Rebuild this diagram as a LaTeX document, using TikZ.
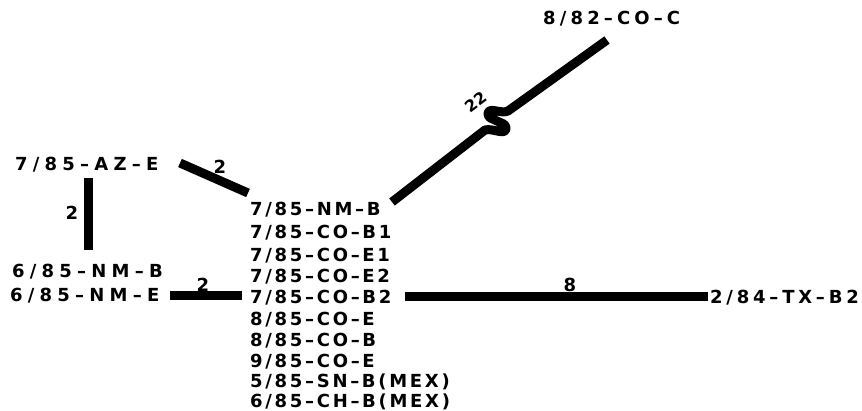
\documentclass[tikz,border=0pt]{standalone}
\usepackage{fontspec}
\setmainfont{DejaVu Sans}
\newfontfamily\colfont{DejaVu Sans}[LetterSpace=15]
\newfontfamily\leftfont{DejaVu Sans}[LetterSpace=29]
\newfontfamily\rightfont{DejaVu Sans}[LetterSpace=21]
\newfontfamily\topfont{DejaVu Sans}[LetterSpace=23]
\begin{document}
\begin{tikzpicture}[x=1pt,y=1pt,
  lbl/.style={inner sep=0pt, anchor=base west, font=\colfont\bfseries\fontsize{18}{20}\selectfont},
  lbll/.style={inner sep=0pt, anchor=base west, font=\leftfont\bfseries\fontsize{18}{20}\selectfont},
  lblr/.style={inner sep=0pt, anchor=base west, font=\rightfont\bfseries\fontsize{18}{20}\selectfont},
  lblt/.style={inner sep=0pt, anchor=base west, font=\topfont\bfseries\fontsize{18}{20}\selectfont},
  num/.style={inner sep=0pt, font=\bfseries\fontsize{18}{20}\selectfont},
  bar/.style={line width=9pt, line cap=butt, line join=round}]
\useasboundingbox (0,0) rectangle (862,411);
% column of labels
\node[lbl] (c1) at (250,195.5) {7/85–NM–B};
\node[lbl] (c2) at (250,172.5) {7/85–CO–B1};
\node[lbl] (c3) at (250,149.5) {7/85–CO–E1};
\node[lbl] (c4) at (250,128.5) {7/85–CO–E2};
\node[lbl] (c5) at (250,107.5) {7/85–CO–B2};
\node[lbl] (c6) at (250,85) {8/85–CO–E};
\node[lbl] (c7) at (250,64) {8/85–CO–B};
\node[lbl] (c8) at (250,43.5) {9/85–CO–E};
\node[lbl] (c9) at (250,23.5) {5/85–SN–B(MEX)};
\node[lbl] (c10) at (250,3.5) {6/85–CH–B(MEX)};
% left labels
\node[lbll] (az) at (15,240.5) {7/85–AZ–E};
\node[lbll] (nmb) at (12,133.5) {6/85–NM–B};
\node[lbll] (nme) at (10,109.5) {6/85–NM–E};
% right labels
\node[lblr] (tx) at (710,107.5) {2/84–TX–B2};
\node[lblt] (coc) at (543,386) {8/82–CO–C};
% bar end points
\coordinate (azA) at (180,248);
\coordinate (azB) at (248,218);
\coordinate (vA) at (88,233);
\coordinate (vB) at (88,161);
\coordinate (neA) at (170,115);
\coordinate (neB) at (242,115);
\coordinate (txA) at (405,114);
\coordinate (txB) at (708,114);
\coordinate (dA) at (392,209);
\coordinate (s1) at (485,281);
\coordinate (s2) at (506,283);
\coordinate (s3) at (497,290);
\coordinate (s4) at (488,297);
\coordinate (s5) at (508,300);
\coordinate (dB) at (607,371);
% bars
\draw[bar] (azA) -- (azB);
\draw[bar] (vA) -- (vB);
\draw[bar] (neA) -- (neB);
\draw[bar] (txA) -- (txB);
\draw[bar] (dA) -- (s1) to[out=15,in=-90] (s2) to[out=90,in=-30] (s3)
  to[out=150,in=-90] (s4) to[out=90,in=205] (s5) -- (dB);
% numbers
\node[num] (n1) at (220,244) {2};
\node[num] (n2) at (72,198) {2};
\node[num] (n3) at (203,126) {2};
\node[num] (n4) at (570,126) {8};
\node[num, rotate=37, font=\bfseries\fontsize{16}{18}\selectfont] (n5) at (476,309) {22};
\end{tikzpicture}
\end{document}
